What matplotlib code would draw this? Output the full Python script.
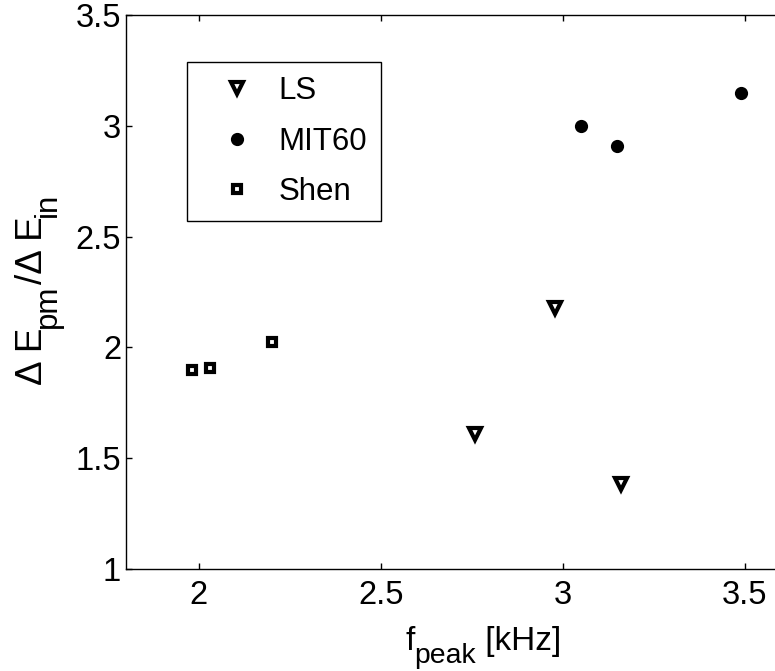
import matplotlib
matplotlib.use("Agg")
import matplotlib.pyplot as plt

plt.rcParams['font.family'] = ['Liberation Sans', 'DejaVu Sans']

# data
ls_f = [2.76, 2.98, 3.16]
ls_r = [1.61, 2.18, 1.385]
mit_f = [3.05, 3.15, 3.49]
mit_r = [3.0, 2.91, 3.15]
shen_f = [1.98, 2.03, 2.20]
shen_r = [1.898, 1.908, 2.025]

xticks = [2, 2.5, 3, 3.5]
yticks = [1, 1.5, 2, 2.5, 3, 3.5]

W, H = 775, 671
fig = plt.figure(figsize=(W / 100, H / 100), dpi=100)
ax = fig.add_axes([126 / W, 102 / H, 655 / W, 554 / H])

ax.plot(ls_f, ls_r, 'v', ms=8.5, mew=3, mfc='white', mec='black', ls='none', label='LS')
ax.plot(mit_f, mit_r, 'o', ms=8, mew=1.5, mfc='black', mec='black', ls='none', label='MIT60')
ax.plot(shen_f, shen_r, 's', ms=5.4, mew=3, mfc='white', mec='black', ls='none', label='Shen')

ax.set_xlim(1.8, 3.6)
ax.set_ylim(1, 3.5)
ax.set_xticks(xticks)
ax.set_xticklabels(['2', '2.5', '3', '3.5'])
ax.set_yticks(yticks)
ax.set_yticklabels(['1', '1.5', '2', '2.5', '3', '3.5'])
ax.tick_params(direction='in', top=True, right=True, labelsize=23.5, length=4, width=1)
ax.tick_params(axis='x', pad=8)
ax.tick_params(axis='y', pad=3.5)
for s in ax.spines.values():
    s.set_linewidth(1)

leg = ax.legend(loc='upper left', bbox_to_anchor=(0.0927, 0.915), borderaxespad=0,
                fontsize=22.5, fancybox=False, edgecolor='black', framealpha=1,
                handletextpad=0.16, borderpad=0.45, labelspacing=0.66, handlelength=2.32)
leg.get_frame().set_linewidth(1)


# MATLAB style labels: subscripts almost full size, dropped well below baseline
def rich_label(x0, y0, parts, vertical=False, size=24):
    r = fig.canvas.get_renderer()
    pos = 0.0
    for txt, sub in parts:
        fs = size * 0.85 if sub else size
        drop = size * 0.54 if sub else 0
        if vertical:
            t = fig.text((x0 + drop) / W, (y0 + pos) / H, txt, fontsize=fs,
                         rotation=90, rotation_mode='anchor', ha='left', va='baseline')
            pos += t.get_window_extent(r).height
        else:
            t = fig.text((x0 + pos) / W, (y0 - drop) / H, txt, fontsize=fs,
                         ha='left', va='baseline')
            pos += t.get_window_extent(r).width


rich_label(405, H - 650, [('f', False), ('peak', True), (' [kHz]', False)])
rich_label(42, H - 385, [('\u0394 E', False), ('pm', True), ('/\u0394 E', False), ('in', True)],
           vertical=True, size=26.5)

fig.savefig('out.png', dpi=100)
